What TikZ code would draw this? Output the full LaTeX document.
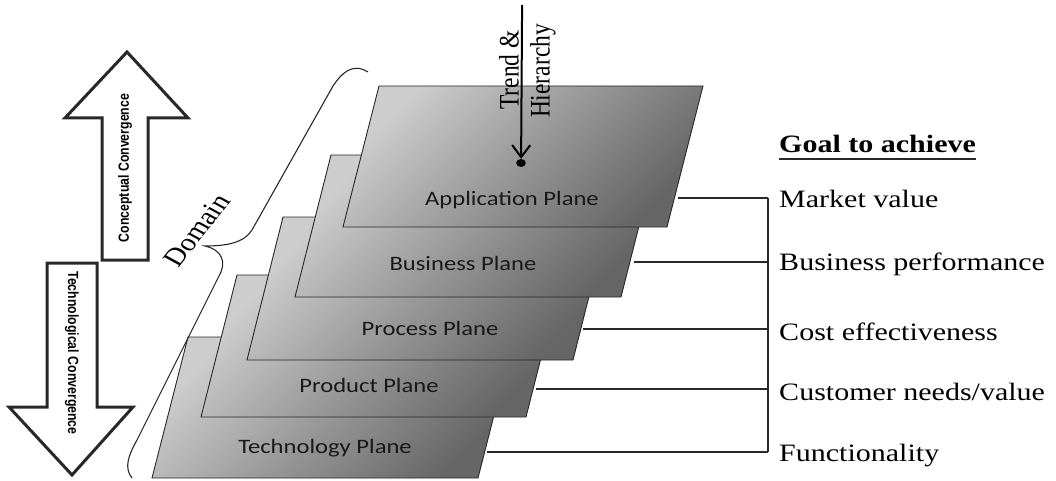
\documentclass[tikz,border=0pt]{standalone}
\usepackage{fontspec}
\setmainfont{Liberation Serif}
\newfontfamily\planefont{Carlito}
\newfontfamily\arrowfont{Liberation Sans}
\usetikzlibrary{arrows.meta,calc}

\definecolor{inkgray}{RGB}{40,40,40}
\definecolor{planelight}{RGB}{205,205,205}
\definecolor{planemid}{RGB}{152,152,152}
\definecolor{planedark}{RGB}{102,102,102}

\tikzset{
  plane/.style={draw=inkgray, line width=0.9pt, top color=planelight,
    bottom color=planedark, middle color=planemid, shading angle=45},
  bigarrow/.style={draw=inkgray, line width=3pt, fill=white, line join=miter},
  arrowlabel/.style={font=\arrowfont\bfseries\fontsize{12.3}{14}\selectfont, inner sep=0},
  planelabel/.style={font=\planefont\fontsize{20.5}{24}\selectfont, inner sep=0,
    anchor=base, text=black!90},
  goaltext/.style={font=\fontsize{25}{30}\selectfont, inner sep=0, anchor=base west},
  link/.style={draw=inkgray, line width=1.5pt},
}

\begin{document}
\begin{tikzpicture}[x=0.833333pt, y=-1pt, xscale=1.2, transform shape]
\useasboundingbox (0,0) rectangle (1056,481);

% stacked planes, lowest first
\path[plane] (188,337) -- (514,337) -- (478,478) -- (152,478) -- cycle;
\path[plane] (237,275) -- (562,275) -- (526,417) -- (201,417) -- cycle;
\path[plane] (283,217) -- (609,217) -- (573,360) -- (247,360) -- cycle;
\path[plane] (331,155) -- (657,155) -- (621,297) -- (295,297) -- cycle;
\path[plane] (379,86) -- (703,86) -- (667,227) -- (343,227) -- cycle;

\node[planelabel] (app)  at (512,205) {Application Plane};
\node[planelabel] (bus)  at (463,270) {Business Plane};
\node[planelabel] (proc) at (430,335) {Process Plane};
\node[planelabel] (prod) at (369,392) {Product Plane};
\node[planelabel] (tech) at (325,453) {Technology Plane};

% trend & hierarchy arrow
\coordinate (trend-top) at (522,5);
\node[circle, fill=black, inner sep=0, minimum size=8pt] (trend-dot) at (521,163) {};
\draw[line width=2pt, -{Straight Barb[length=12pt,width=18pt,line width=2pt]}]
  (trend-top) -- (trend-dot.north);
\node[rotate=90, font=\fontsize{23.5}{28}\selectfont, inner sep=0] (trend) at (509,70) {Trend \&};
\node[rotate=90, font=\fontsize{23.5}{28}\selectfont, inner sep=0] (hier) at (543,71) {Hierarchy};

% goals
\node[goaltext, font=\bfseries\fontsize{25}{30}\selectfont] (goal) at (779,153) {Goal to achieve};
\draw[line width=1.8pt, inkgray] ([yshift=-6pt]goal.base west) -- ([yshift=-6pt]goal.base east);
\node[goaltext] (g1) at (779,207) {Market value};
\node[goaltext] (g2) at (779,270) {Business performance};
\node[goaltext] (g3) at (779,340) {Cost effectiveness};
\node[goaltext] (g4) at (779,400) {Customer needs/value};
\node[goaltext] (g5) at (779,461) {Functionality};

\coordinate (s1) at (678,198); \coordinate (e1) at (768,198);
\coordinate (s2) at (634,262); \coordinate (e2) at (768,262);
\coordinate (s3) at (583,329); \coordinate (e3) at (768,329);
\coordinate (s4) at (536,389); \coordinate (e4) at (768,389);
\coordinate (s5) at (487,452); \coordinate (e5) at (768,452);
\draw[link] (s1) -- (e1);
\draw[link] (s2) -- (e2);
\draw[link] (s3) -- (e3);
\draw[link] (s4) -- (e4);
\draw[link] (s5) -- (e5);
\draw[link] (e1) -- (e5);

% domain brace
\draw[line width=1.1pt, inkgray]
  (368,72) .. controls (352,62) and (341,74) .. (333,86)
  -- (252,230) .. controls (244,243) and (226,246) .. (205,246)
  .. controls (222,250) and (227,262) .. (219,276)
  -- (137,440) .. controls (128,456) and (124,468) .. (132,478);
\node[rotate=56.5, font=\fontsize{25}{30}\selectfont, inner sep=0] (domain) at (197,230) {Domain};

% convergence arrows
\path[bigarrow] (127,52) -- (188,118) -- (148,118) -- (148,260) -- (102,260)
  -- (102,118) -- (65,118) -- cycle;
\node[arrowlabel, rotate=90] (concept) at (125,168) {Conceptual Convergence};
\path[bigarrow] (47,263) -- (97,263) -- (97,407) -- (133,407) -- (72,475)
  -- (9,407) -- (47,407) -- cycle;
\node[arrowlabel, rotate=-90] (techconv) at (72,353) {Technological Convergence};
\end{tikzpicture}
\end{document}
